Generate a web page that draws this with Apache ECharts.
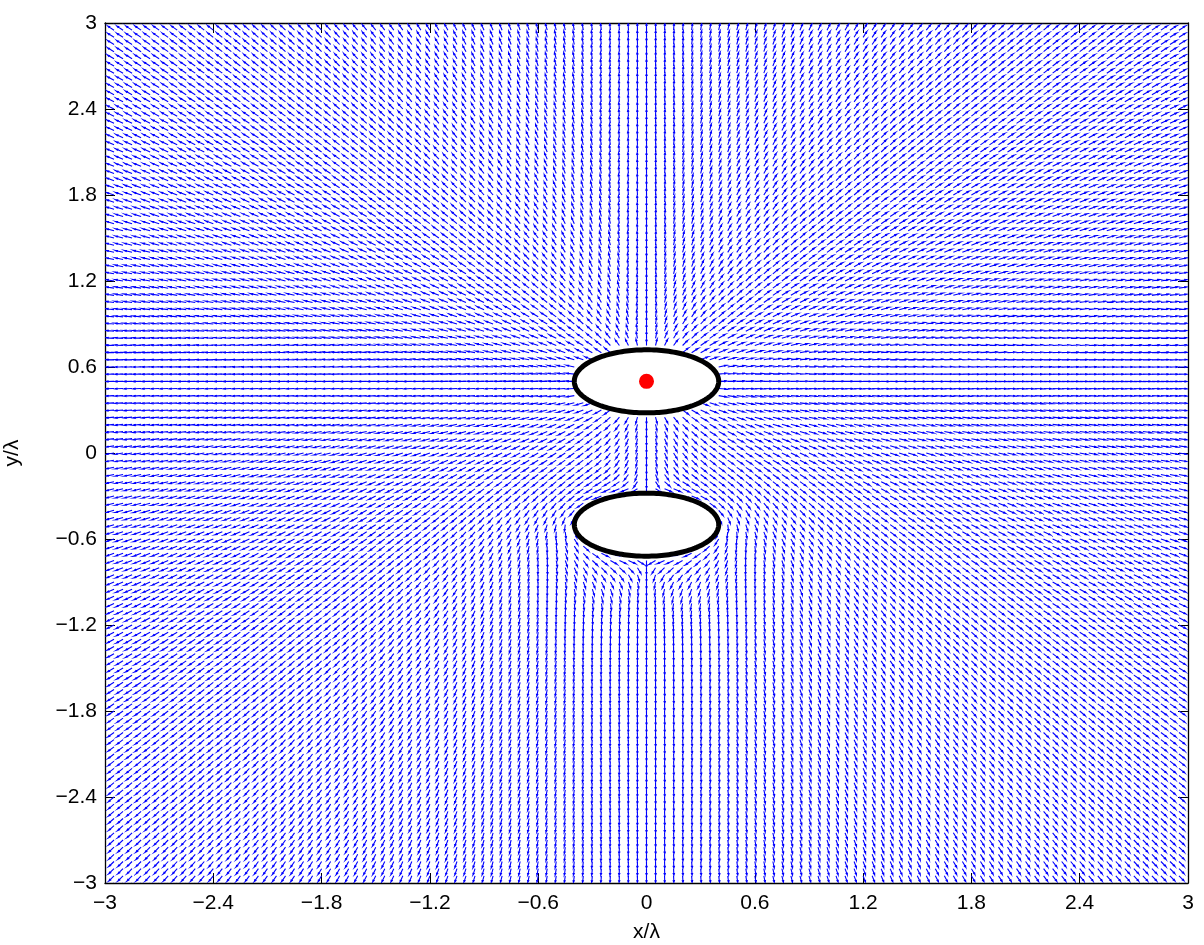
<!DOCTYPE html>
<html>
<head>
<meta charset="utf-8">
<script src="https://cdn.jsdelivr.net/npm/echarts@6/dist/echarts.min.js"></script>
<style>
  html, body { margin: 0; padding: 0; background: #fff; }
  #chart { width: 1204px; height: 945px; }
</style>
</head>
<body>
<div id="chart"></div>
<script>
// Axis ticks (x/λ and y/λ)
const xTicks = [-3, -2.4, -1.8, -1.2, -0.6, 0, 0.6, 1.2, 1.8, 2.4, 3];
const yTicks = [-3, -2.4, -1.8, -1.2, -0.6, 0, 0.6, 1.2, 1.8, 2.4, 3];

// Line source (red dot), in units of wavelength
const sourcePos = [0, 0.5];
// Elliptical cylinders: [centre x, centre y, semi-axis x, semi-axis y]
const ellipseUpper = [0, 0.5, 0.4, 0.22];
const ellipseLower = [0, -0.5, 0.4, 0.22];

// Sampling grid of the flow field
const gridMin = -3, gridMax = 3, gridStep = 0.05;

// ---- complex helpers ----
function cadd(a, b) { return [a[0] + b[0], a[1] + b[1]]; }
function csub(a, b) { return [a[0] - b[0], a[1] - b[1]]; }
function cmul(a, b) { return [a[0] * b[0] - a[1] * b[1], a[0] * b[1] + a[1] * b[0]]; }
function cdiv(a, b) { const d = b[0] * b[0] + b[1] * b[1]; return [(a[0] * b[0] + a[1] * b[1]) / d, (a[1] * b[0] - a[0] * b[1]) / d]; }
function cinv(a) { return cdiv([1, 0], a); }
function csqrt(a) {
  const r = Math.hypot(a[0], a[1]);
  const re = Math.sqrt(Math.max(0, (r + a[0]) / 2));
  let im = Math.sqrt(Math.max(0, (r - a[0]) / 2));
  if (a[1] < 0) im = -im;
  return [re, im];
}
function cabs(a) { return Math.hypot(a[0], a[1]); }

// Conformal map of the lower cylinder onto a circle (Joukowski)
const ea = ellipseLower[2], eb = ellipseLower[3];
const Rc = (ea + eb) / 2;
const k2 = Rc * (ea - eb) / 2;
function toZeta(z) {
  const s = csqrt(csub(cmul(z, z), [4 * k2, 0]));
  const z1 = [(z[0] + s[0]) / 2, (z[1] + s[1]) / 2];
  const z2 = [(z[0] - s[0]) / 2, (z[1] - s[1]) / 2];
  return cabs(z1) >= cabs(z2) ? z1 : z2;
}
const zetaS = toZeta([sourcePos[0] - ellipseLower[0], sourcePos[1] - ellipseLower[1]]);
const zetaImg = cdiv([Rc * Rc, 0], [zetaS[0], -zetaS[1]]);

// Direction of power flow from the source around the lower cylinder
function flowDir(x, y) {
  const z = [x - ellipseLower[0], y - ellipseLower[1]];
  const zeta = toZeta(z);
  let dW = cadd(cinv(csub(zeta, zetaS)), cinv(csub(zeta, zetaImg)));
  dW = csub(dW, cinv(zeta));
  const jac = csub([1, 0], cdiv([k2, 0], cmul(zeta, zeta)));
  const w = cdiv(dW, jac);
  const u = w[0], v = -w[1];
  const m = Math.hypot(u, v) || 1;
  return [u / m, v / m];
}

function insideEllipse(e, x, y) {
  const dx = (x - e[0]) / e[2], dy = (y - e[1]) / e[3];
  return dx * dx + dy * dy < 1;
}

const arrowData = [];
const nSteps = Math.round((gridMax - gridMin) / gridStep);
for (let i = 0; i <= nSteps; i++) {
  const x = +(gridMin + i * gridStep).toFixed(3);
  for (let j = 0; j <= nSteps; j++) {
    const y = +(gridMin + j * gridStep).toFixed(3);
    if (insideEllipse(ellipseUpper, x, y) || insideEllipse(ellipseLower, x, y)) continue;
    const d = flowDir(x, y);
    arrowData.push([x, y, d[0], d[1]]);
  }
}

// quiver-style arrow: shaft plus two short head strokes
const arrowLen = 0.9 * gridStep;
const headA = 0.33, headB = 0.33;
function renderArrow(params, api) {
  const x = api.value(0), y = api.value(1);
  const u = api.value(2) * arrowLen, v = api.value(3) * arrowLen;
  const tx = x + u, ty = y + v;
  const p0 = api.coord([x, y]);
  const p1 = api.coord([tx, ty]);
  const h1 = api.coord([tx - headA * (u + headB * v), ty - headA * (v - headB * u)]);
  const h2 = api.coord([tx - headA * (u - headB * v), ty - headA * (v + headB * u)]);
  return {
    type: 'polyline',
    shape: { points: [p0, p1, h1, p1, h2] },
    style: { stroke: '#0000ff', lineWidth: 1.1, fill: null }
  };
}

function renderEllipse(params, api) {
  const cx = api.value(0), cy = api.value(1), a = api.value(2), b = api.value(3);
  const pts = [];
  for (let k = 0; k < 180; k++) {
    const t = 2 * Math.PI * k / 180;
    pts.push(api.coord([cx + a * Math.cos(t), cy + b * Math.sin(t)]));
  }
  return {
    type: 'polygon',
    shape: { points: pts },
    style: { fill: '#ffffff', stroke: '#000000', lineWidth: 5 }
  };
}

const fontFam = '"Liberation Sans", Arial, Helvetica, sans-serif';
const fmt = v => String(Math.round(v * 10) / 10).replace('-', '\u2212');

const chart = echarts.init(document.getElementById('chart'), null, { renderer: 'canvas' });
const axisCommon = {
  type: 'value', min: -3, max: 3, interval: 0.6,
  axisLine: { show: true, onZero: false, lineStyle: { color: '#000', width: 1.3 } },
  axisTick: { show: true, inside: true, length: 10, lineStyle: { color: '#000', width: 1 } },
  splitLine: { show: false }
};
chart.setOption({
  animation: false,
  backgroundColor: '#ffffff',
  grid: { left: 105, top: 23, width: 1083, height: 860, containLabel: false, outerBoundsMode: 'none' },
  xAxis: [
    Object.assign({}, axisCommon, {
      position: 'bottom',
      name: 'x/\u03bb', nameLocation: 'middle', nameGap: 39,
      nameTextStyle: { color: '#000', fontSize: 21, fontFamily: fontFam },
      axisLabel: { color: '#000', fontSize: 21, fontFamily: fontFam, margin: 10, formatter: fmt,
        customValues: xTicks }
    }),
    Object.assign({}, axisCommon, { position: 'top', axisLabel: { show: false } })
  ],
  yAxis: [
    Object.assign({}, axisCommon, {
      position: 'left',
      name: 'y/\u03bb', nameLocation: 'middle', nameGap: 82, nameRotate: 90,
      nameTextStyle: { color: '#000', fontSize: 21, fontFamily: fontFam },
      axisLabel: { color: '#000', fontSize: 21, fontFamily: fontFam, margin: 8, formatter: fmt,
        customValues: yTicks }
    }),
    Object.assign({}, axisCommon, { position: 'right', axisLabel: { show: false } })
  ],
  series: [
    {
      type: 'custom', name: 'flow', xAxisIndex: 0, yAxisIndex: 0,
      renderItem: renderArrow, data: arrowData, clip: true, silent: true,
      progressive: 0, z: 1
    },
    {
      type: 'custom', name: 'cylinders', xAxisIndex: 0, yAxisIndex: 0,
      renderItem: renderEllipse, data: [ellipseUpper, ellipseLower], silent: true, z: 2
    },
    {
      type: 'scatter', name: 'source', xAxisIndex: 0, yAxisIndex: 0,
      data: [sourcePos], symbol: 'circle', symbolSize: 15,
      itemStyle: { color: '#ff0000', opacity: 1 }, silent: true, z: 3
    }
  ]
});
</script>
</body>
</html>
